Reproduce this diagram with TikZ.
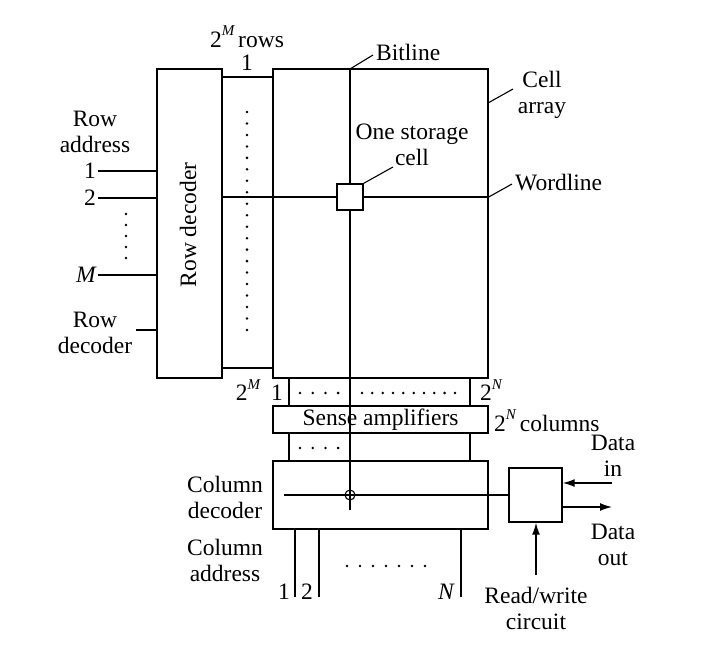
\documentclass[tikz,border=0pt]{standalone}
\usepackage{fontspec}
\setmainfont{Liberation Serif}
\usetikzlibrary{arrows.meta}
\newcommand{\pwr}[1]{\raisebox{0.5em}{\fontsize{15}{15}\selectfont\itshape #1}}
\begin{document}
\begin{tikzpicture}[x=1pt,y=-1pt,
  every node/.style={font=\fontsize{23.5}{26}\selectfont},
  box/.style={draw,line width=1.4pt,inner sep=0pt,minimum width=#1},
  wire/.style={line width=1.4pt},
  lead/.style={line width=1.1pt},
  arr/.style={line width=1.4pt,-{Latex[length=12pt,width=8pt]}},
  lbl/.style={align=center,inner sep=0pt},
  dotc/.style={fill=black}]
\useasboundingbox (0,0) rectangle (721,658);
% boxes
\node[box=65pt,minimum height=309pt] (rowdec) at (189.5,223.5) {};
\node[rotate=90] (rowdectxt) at (188,225) {Row decoder};
\node[box=51pt,minimum height=291pt] (rowstrip) at (247.5,222.5) {};
\node[box=215pt,minimum height=309pt] (cellarr) at (380.5,223.5) {};
\node[box=181pt,minimum height=28pt] (upstrip) at (379.5,392) {};
\node[box=215pt,minimum height=27pt] (senseamp) at (380.5,419.5) {Sense amplifiers};
\node[box=181pt,minimum height=28pt] (lowstrip) at (379.5,447) {};
\node[box=215pt,minimum height=68pt] (coldec) at (380.5,495) {};
\node[box=53pt,minimum height=54pt] (rw) at (535.5,495) {};
% bitline and wordline
\coordinate (bltop) at (350,69);
\coordinate (blend) at (350,510);
\coordinate (wl) at (350,197);
\draw[wire] (bltop) -- (blend);
\draw[wire] (rowdec.east |- wl) -- (cellarr.east |- wl);
\node[box=26pt,minimum height=26pt,fill=white] (cell) at (wl) {};
% column decoder line
\coordinate (cdl) at (284,495);
\draw[wire] (cdl) -- (rw.west);
\node[draw,circle,line width=1.1pt,minimum size=10pt,inner sep=0pt] (mux) at (350,495) {};
% row address lines
\coordinate (ra1) at (98,171);
\coordinate (ra2) at (98,198);
\coordinate (raM) at (98,275);
\coordinate (rdl) at (136,330);
\draw[wire] (ra1) -- (rowdec.west |- ra1);
\draw[wire] (ra2) -- (rowdec.west |- ra2);
\draw[wire] (raM) -- (rowdec.west |- raM);
\draw[lead] (rdl) -- (rowdec.west |- rdl);
% column address lines
\coordinate (ca1) at (295,597);
\coordinate (ca2) at (319,597);
\coordinate (caN) at (461,597);
\draw[wire] (ca1) -- (coldec.south -| ca1);
\draw[wire] (ca2) -- (coldec.south -| ca2);
\draw[wire] (caN) -- (coldec.south -| caN);
% read/write arrows
\coordinate (din) at (612,483);
\coordinate (dout) at (612,507);
\coordinate (rwin) at (536,575);
\draw[arr] (din) -- (rw.east |- din);
\draw[arr] (rw.east |- dout) -- (dout);
\draw[arr] (rwin) -- (rw.south -| rwin);
% dots
\foreach \i in {0,...,4} \fill (126,214+11*\i) circle (1.4pt);
\foreach \i in {0,...,19} \fill (247,112+11.47*\i) circle (1.4pt);
\foreach \i in {0,...,3} \fill (300+12.7*\i,393) circle (1.4pt);
\foreach \i in {0,...,9} \fill (362+10.33*\i,393) circle (1.4pt);
\foreach \i in {0,...,3} \fill (300+12.7*\i,448) circle (1.4pt);
\foreach \i in {0,...,6} \fill (347+13*\i,566) circle (1.4pt);
% leaders and labels
\coordinate (bll) at (373,55);
\draw[lead] (bltop) -- (bll);
\node[lbl,anchor=west] (bltxt) at (376,52) {Bitline};
\coordinate (cal0) at (488,103);
\coordinate (cal) at (513,89);
\draw[lead] (cal0) -- (cal);
\node[lbl] (catxt) at (542,95) {Cell\\array};
\coordinate (scl) at (393,167);
\draw[lead] (cell.north east) -- (scl);
\node[lbl] (sctxt) at (412,145) {One storage\\cell};
\coordinate (wll) at (512,184);
\draw[lead] (cellarr.east |- wl) -- (wll);
\node[lbl,anchor=west] (wltxt) at (515,183) {Wordline};
\node[lbl] (rowstxt) at (247,37) {2\pwr{M}\,rows};
\node[lbl] (row1) at (247,63) {1};
\node[lbl] (ratxt) at (95,131.5) {Row\\address};
\node[lbl,anchor=east] (ra1t) at (96,171) {1};
\node[lbl,anchor=east] (ra2t) at (96,198) {2};
\node[lbl,anchor=east] (raMt) at (96,275) {\itshape M};
\node[lbl] (rdtxt) at (95,333) {Row\\decoder};
\node[lbl] (rowMt) at (248,390) {2\pwr{M}};
\node[lbl] (col1t) at (277,393) {1};
\node[lbl] (colNt) at (491,390) {2\pwr{N}};
\node[lbl,anchor=west] (colstxt) at (494,421) {2\pwr{N}\,columns};
\node[lbl] (cdtxt) at (225,497) {Column\\decoder};
\node[lbl] (catxt2) at (225,560) {Column\\address};
\node[lbl] (ca1t) at (284,592) {1};
\node[lbl] (ca2t) at (307,592) {2};
\node[lbl] (caNt) at (446,592) {\itshape N};
\node[lbl] (dintxt) at (613,456) {Data\\in};
\node[lbl] (douttxt) at (613,545) {Data\\out};
\node[lbl] (rwtxt) at (536,608) {Read/write\\circuit};
\end{tikzpicture}
\end{document}
